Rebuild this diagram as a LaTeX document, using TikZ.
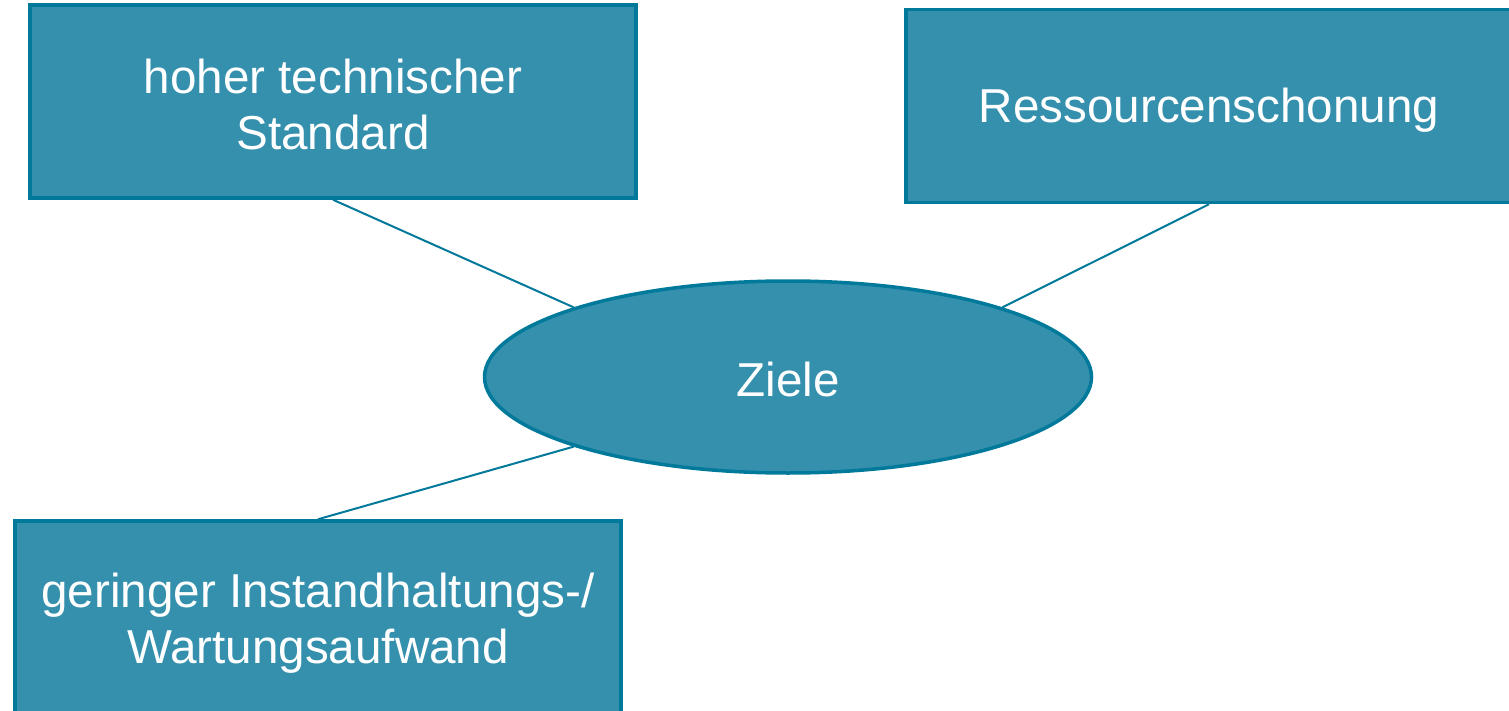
\documentclass[tikz,border=0pt]{standalone}
\usepackage{fontspec}
\setmainfont{Liberation Sans}
\usetikzlibrary{shapes.geometric}
\definecolor{boxfill}{HTML}{3490AD}
\definecolor{boxline}{HTML}{00799A}
\begin{document}
\begin{tikzpicture}[x=0.5pt,y=-0.5pt,
  goalbox/.style={draw=boxline,fill=boxfill,line width=1.75pt,minimum width=303pt,minimum height=96.5pt,inner sep=0pt,text=white,align=center,font=\fontsize{23.8}{28}\selectfont},
  goalell/.style={ellipse,draw=boxline,fill=boxfill,line width=1.75pt,minimum width=303.5pt,minimum height=96pt,inner sep=0pt,text=white,font=\fontsize{23.8}{28}\selectfont},
  boxtext/.style={text=white,align=center,font=\fontsize{23.8}{28}\selectfont},
  link/.style={draw=boxline,line width=1pt}]
\useasboundingbox (0,0) rectangle (1509,711);
\clip (0,0) rectangle (1509,711);
\node[goalbox] (a) at (333,101.5) {};
\node[goalbox] (b) at (1209,106) {};
\node[goalbox] (c) at (318,617.5) {};
\node[boxtext] (at) at (333,104.5) {hoher technischer\\Standard};
\node[boxtext] (bt) at (1209,110) {Ressourcenschonung};
\node[boxtext] (ct) at (318,623) {geringer Instandhaltungs-/\\Wartungsaufwand};
\node[goalell] (z) at (788,377) {};
\node[boxtext] (zt) at (788,379) {Ziele};
\draw[link] (a.south) -- (z.162);
\draw[link] (b.south) -- (z.18);
\draw[link] (c.north) -- (z.198);
\end{tikzpicture}
\end{document}
